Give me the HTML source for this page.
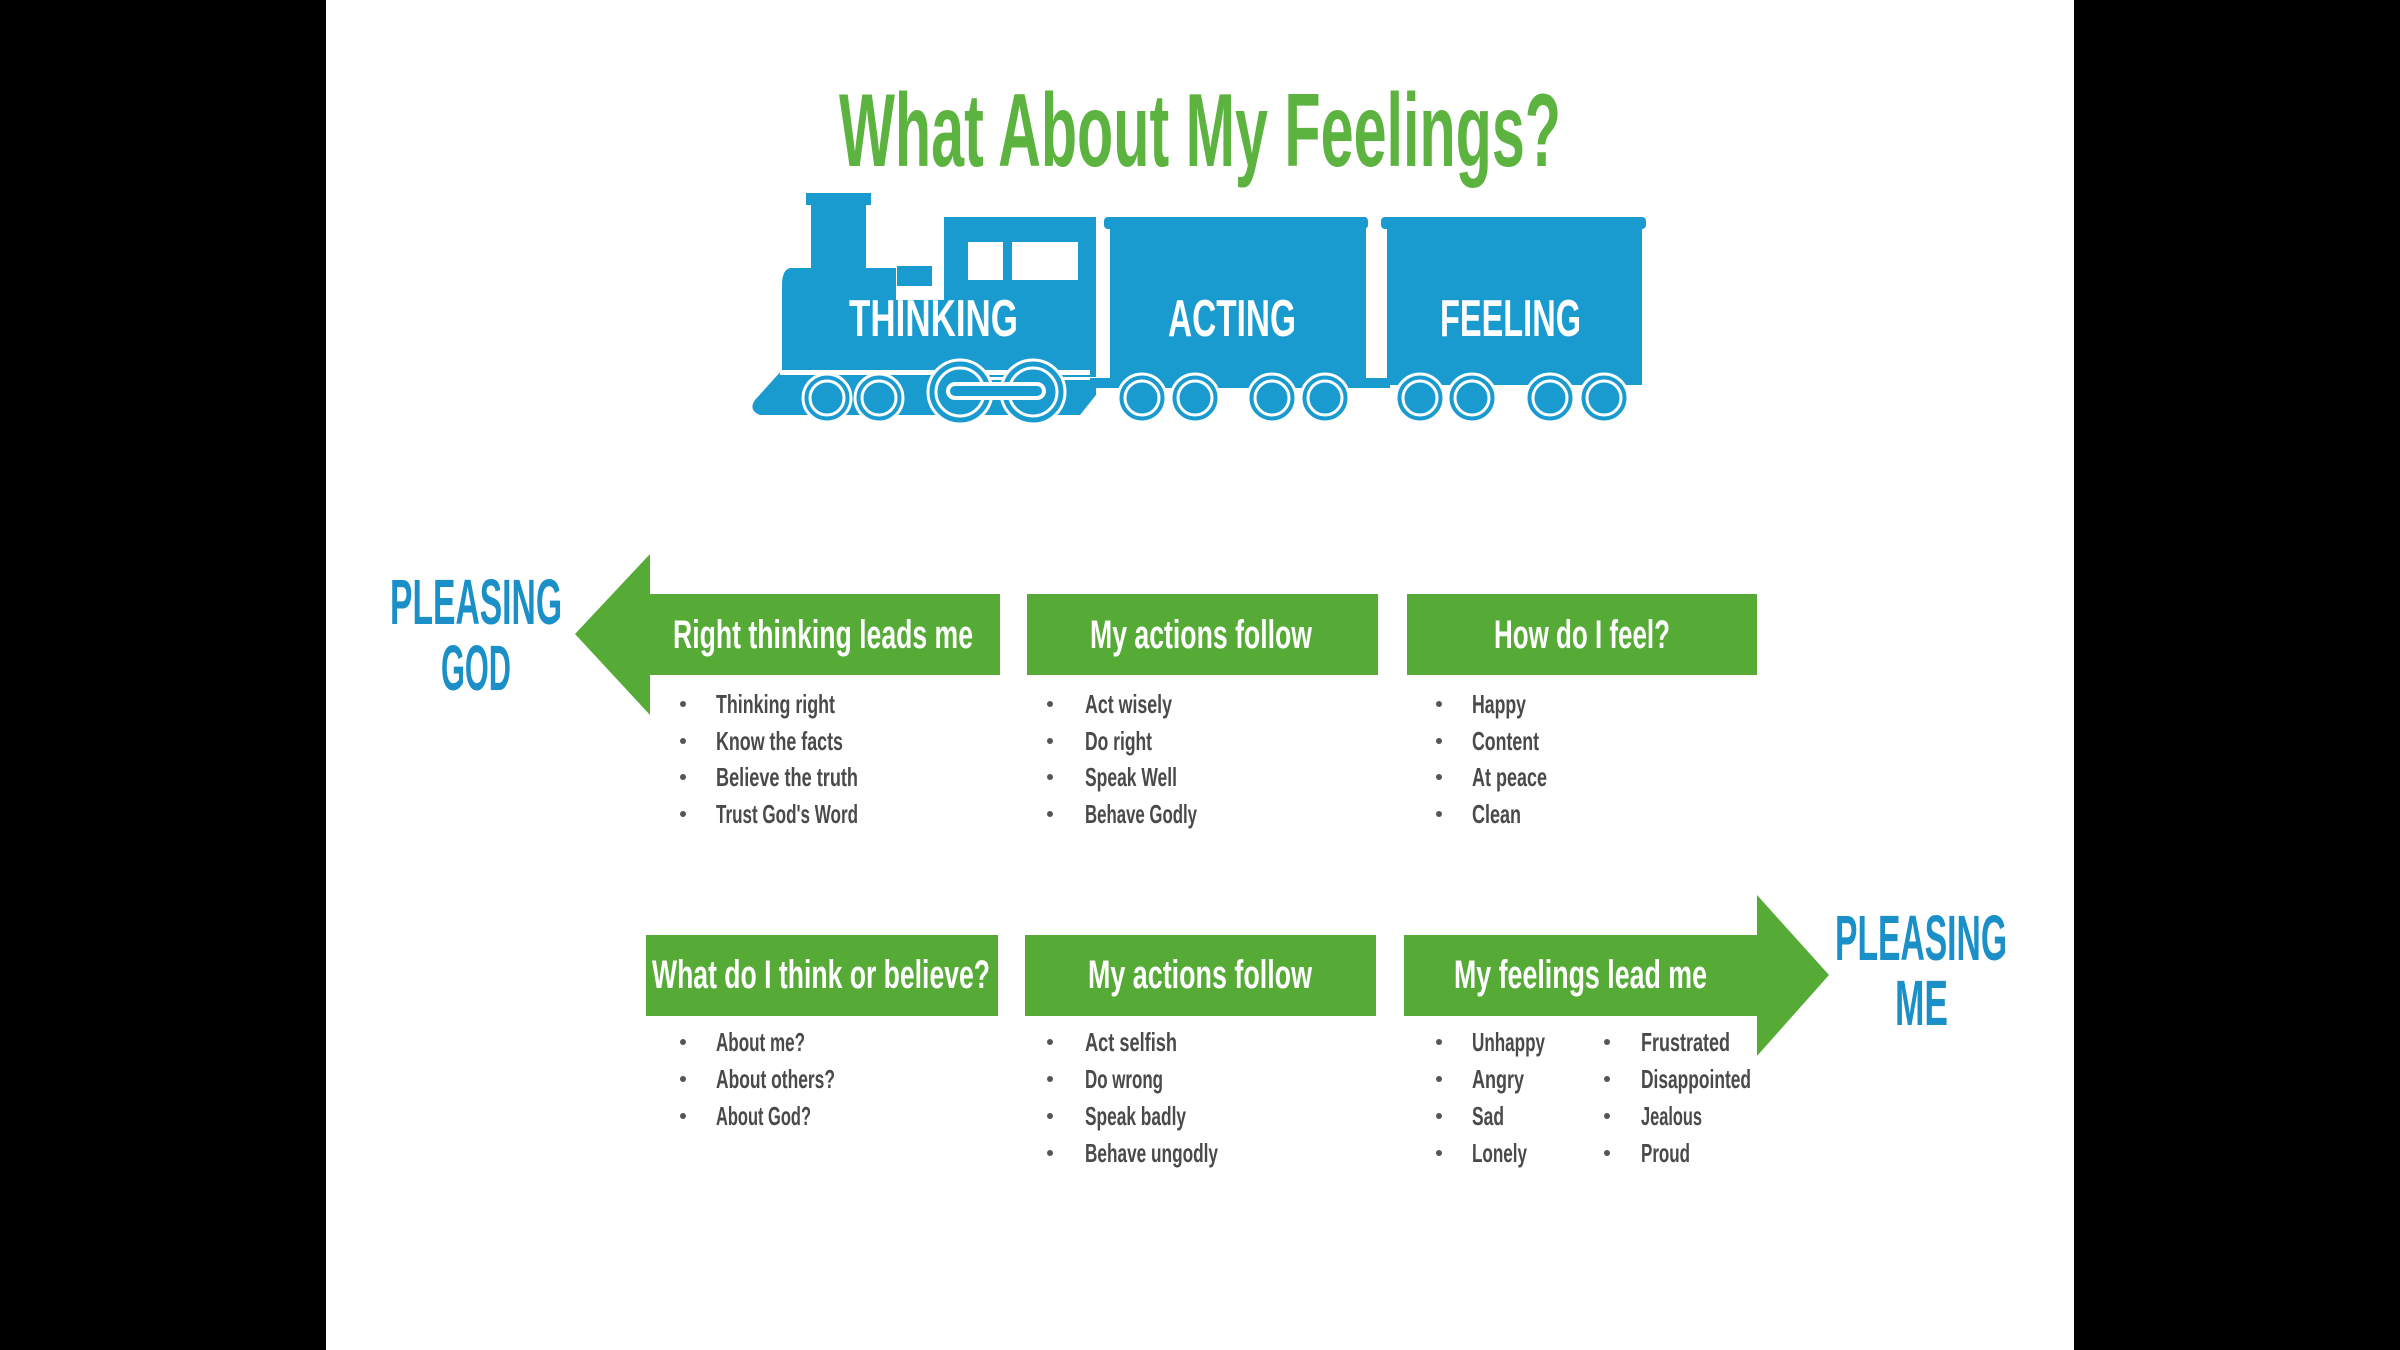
<!DOCTYPE html>
<html><head><meta charset="utf-8"><style>
html,body{margin:0;padding:0;background:#000;width:2400px;height:1350px;overflow:hidden}
svg{display:block}
text{font-family:"Liberation Sans",sans-serif;font-weight:bold}
.t{fill:#fff}
.b{fill:#4a4a4a;font-size:26px}
.bl{fill:#1a8fc8;font-size:64px}
</style></head><body>
<svg width="2400" height="1350" viewBox="0 0 2400 1350" xmlns="http://www.w3.org/2000/svg">
<rect x="0" y="0" width="2400" height="1350" fill="#000"/>
<rect x="326" y="0" width="1748" height="1350" fill="#fff"/>
<text x="839" y="166" font-size="104" fill="#5db33f" textLength="722" lengthAdjust="spacingAndGlyphs">What About My Feelings?</text>

<g fill="#1a9bd0">
 <rect x="811" y="193" width="55" height="75"/>
 <rect x="806" y="193" width="65" height="12"/>
 <rect x="897" y="266" width="35" height="20"/>
 <rect x="944" y="217" width="152" height="14"/>
 <rect x="944" y="217" width="152" height="160"/>
 <path d="M790 268 L896 268 L896 300 L944 300 L944 380 L1096 380 L1096 395 L1080 415 L760 415 Q748 410 755 400 L782 370 L782 285 Q782 270 790 268 Z"/>
 <rect x="1104" y="217" width="264" height="12" rx="4"/>
 <rect x="1110" y="217" width="256" height="168"/>
 <rect x="1381" y="217" width="265" height="12" rx="4"/>
 <rect x="1387" y="217" width="255" height="168"/>
 <rect x="1090" y="378" width="300" height="10"/>
</g>
<g fill="#fff">
 <rect x="968" y="242" width="35" height="38"/>
 <rect x="1012" y="242" width="66" height="38"/>
 <rect x="780" y="370" width="310" height="5"/>
</g>
<g fill="#1a9bd0" stroke="#fff" stroke-width="3">
 <circle cx="827" cy="398" r="24"/><circle cx="879" cy="398" r="24"/>
 <circle cx="960" cy="392" r="32"/><circle cx="1033" cy="392" r="32"/>
 <circle cx="1142" cy="398" r="24"/><circle cx="1195" cy="398" r="24"/>
 <circle cx="1272" cy="398" r="24"/><circle cx="1325" cy="398" r="24"/>
 <circle cx="1420" cy="398" r="24"/><circle cx="1472" cy="398" r="24"/>
 <circle cx="1550" cy="398" r="24"/><circle cx="1604" cy="398" r="24"/>
</g>
<g fill="none" stroke="#fff" stroke-width="3">
 <circle cx="827" cy="398" r="17"/><circle cx="879" cy="398" r="17"/>
 <circle cx="960" cy="392" r="24"/><circle cx="1033" cy="392" r="24"/>
 <circle cx="1142" cy="398" r="17"/><circle cx="1195" cy="398" r="17"/>
 <circle cx="1272" cy="398" r="17"/><circle cx="1325" cy="398" r="17"/>
 <circle cx="1420" cy="398" r="17"/><circle cx="1472" cy="398" r="17"/>
 <circle cx="1550" cy="398" r="17"/><circle cx="1604" cy="398" r="17"/>
</g>
<rect x="948" y="384" width="96" height="14" rx="7" fill="#1a9bd0" stroke="#fff" stroke-width="4"/>
<text class="t" x="849" y="336" font-size="52" textLength="169" lengthAdjust="spacingAndGlyphs">THINKING</text>
<text class="t" x="1168" y="336" font-size="52" textLength="128" lengthAdjust="spacingAndGlyphs">ACTING</text>
<text class="t" x="1440" y="336" font-size="52" textLength="141" lengthAdjust="spacingAndGlyphs">FEELING</text>

<g fill="#56ab36">
 <path d="M575 634 L650 554 L650 594 L1000 594 L1000 675 L650 675 L650 715 Z"/>
 <rect x="1027" y="594" width="351" height="81"/>
 <rect x="1407" y="594" width="350" height="81"/>
 <rect x="646" y="935" width="352" height="81"/>
 <rect x="1025" y="935" width="351" height="81"/>
 <path d="M1404 935 L1757 935 L1757 895 L1829 975 L1757 1056 L1757 1016 L1404 1016 Z"/>
</g>
<text class="t" x="673" y="648" font-size="40" textLength="300" lengthAdjust="spacingAndGlyphs">Right thinking leads me</text>
<text class="t" x="1090" y="648" font-size="40" textLength="222" lengthAdjust="spacingAndGlyphs">My actions follow</text>
<text class="t" x="1494" y="648" font-size="40" textLength="176" lengthAdjust="spacingAndGlyphs">How do I feel?</text>
<text class="t" x="652" y="988" font-size="40" textLength="338" lengthAdjust="spacingAndGlyphs">What do I think or believe?</text>
<text class="t" x="1088" y="988" font-size="40" textLength="224" lengthAdjust="spacingAndGlyphs">My actions follow</text>
<text class="t" x="1454" y="988" font-size="40" textLength="253" lengthAdjust="spacingAndGlyphs">My feelings lead me</text>

<text class="bl" x="390" y="624" textLength="172" lengthAdjust="spacingAndGlyphs">PLEASING</text>
<text class="bl" x="441" y="690" textLength="70" lengthAdjust="spacingAndGlyphs">GOD</text>
<text class="bl" x="1835" y="960" textLength="172" lengthAdjust="spacingAndGlyphs">PLEASING</text>
<text class="bl" x="1895" y="1025" textLength="53" lengthAdjust="spacingAndGlyphs">ME</text>

<g fill="#555">
 <circle cx="683" cy="704" r="3"/><circle cx="683" cy="741" r="3"/><circle cx="683" cy="777" r="3"/><circle cx="683" cy="814" r="3"/>
 <circle cx="1050" cy="704" r="3"/><circle cx="1050" cy="741" r="3"/><circle cx="1050" cy="777" r="3"/><circle cx="1050" cy="814" r="3"/>
 <circle cx="1439" cy="704" r="3"/><circle cx="1439" cy="741" r="3"/><circle cx="1439" cy="777" r="3"/><circle cx="1439" cy="814" r="3"/>
 <circle cx="683" cy="1042" r="3"/><circle cx="683" cy="1079" r="3"/><circle cx="683" cy="1116" r="3"/>
 <circle cx="1050" cy="1042" r="3"/><circle cx="1050" cy="1079" r="3"/><circle cx="1050" cy="1116" r="3"/><circle cx="1050" cy="1153" r="3"/>
 <circle cx="1439" cy="1042" r="3"/><circle cx="1439" cy="1079" r="3"/><circle cx="1439" cy="1116" r="3"/><circle cx="1439" cy="1153" r="3"/>
 <circle cx="1607" cy="1042" r="3"/><circle cx="1607" cy="1079" r="3"/><circle cx="1607" cy="1116" r="3"/><circle cx="1607" cy="1153" r="3"/>
</g>
<g>
<text class="b" x="716" y="713" textLength="119" lengthAdjust="spacingAndGlyphs">Thinking right</text>
<text class="b" x="716" y="750" textLength="127" lengthAdjust="spacingAndGlyphs">Know the facts</text>
<text class="b" x="716" y="786" textLength="142" lengthAdjust="spacingAndGlyphs">Believe the truth</text>
<text class="b" x="716" y="823" textLength="142" lengthAdjust="spacingAndGlyphs">Trust God's Word</text>
<text class="b" x="1085" y="713" textLength="87" lengthAdjust="spacingAndGlyphs">Act wisely</text>
<text class="b" x="1085" y="750" textLength="67" lengthAdjust="spacingAndGlyphs">Do right</text>
<text class="b" x="1085" y="786" textLength="92" lengthAdjust="spacingAndGlyphs">Speak Well</text>
<text class="b" x="1085" y="823" textLength="112" lengthAdjust="spacingAndGlyphs">Behave Godly</text>
<text class="b" x="1472" y="713" textLength="54" lengthAdjust="spacingAndGlyphs">Happy</text>
<text class="b" x="1472" y="750" textLength="67" lengthAdjust="spacingAndGlyphs">Content</text>
<text class="b" x="1472" y="786" textLength="75" lengthAdjust="spacingAndGlyphs">At peace</text>
<text class="b" x="1472" y="823" textLength="49" lengthAdjust="spacingAndGlyphs">Clean</text>
<text class="b" x="716" y="1051" textLength="89" lengthAdjust="spacingAndGlyphs">About me?</text>
<text class="b" x="716" y="1088" textLength="119" lengthAdjust="spacingAndGlyphs">About others?</text>
<text class="b" x="716" y="1125" textLength="95" lengthAdjust="spacingAndGlyphs">About God?</text>
<text class="b" x="1085" y="1051" textLength="92" lengthAdjust="spacingAndGlyphs">Act selfish</text>
<text class="b" x="1085" y="1088" textLength="78" lengthAdjust="spacingAndGlyphs">Do wrong</text>
<text class="b" x="1085" y="1125" textLength="101" lengthAdjust="spacingAndGlyphs">Speak badly</text>
<text class="b" x="1085" y="1162" textLength="133" lengthAdjust="spacingAndGlyphs">Behave ungodly</text>
<text class="b" x="1472" y="1051" textLength="73" lengthAdjust="spacingAndGlyphs">Unhappy</text>
<text class="b" x="1472" y="1088" textLength="52" lengthAdjust="spacingAndGlyphs">Angry</text>
<text class="b" x="1472" y="1125" textLength="32" lengthAdjust="spacingAndGlyphs">Sad</text>
<text class="b" x="1472" y="1162" textLength="55" lengthAdjust="spacingAndGlyphs">Lonely</text>
<text class="b" x="1641" y="1051" textLength="89" lengthAdjust="spacingAndGlyphs">Frustrated</text>
<text class="b" x="1641" y="1088" textLength="110" lengthAdjust="spacingAndGlyphs">Disappointed</text>
<text class="b" x="1641" y="1125" textLength="61" lengthAdjust="spacingAndGlyphs">Jealous</text>
<text class="b" x="1641" y="1162" textLength="49" lengthAdjust="spacingAndGlyphs">Proud</text>
</g>
</svg>
</body></html>
